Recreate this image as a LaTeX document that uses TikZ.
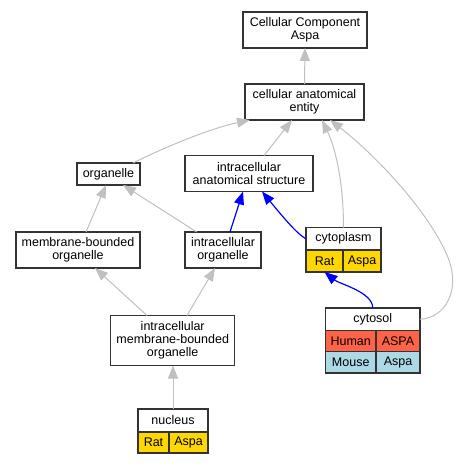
\documentclass[tikz,border=0pt]{standalone}
\usepackage{fontspec}
\setmainfont{Liberation Sans}
\usetikzlibrary{arrows.meta}
\definecolor{edgegray}{HTML}{C0C0C0}
\definecolor{gold}{HTML}{FFD700}
\definecolor{tomato}{HTML}{FF6347}
\definecolor{lblue}{HTML}{ADD8E6}
\definecolor{bord}{HTML}{333333}
\begin{document}
\begin{tikzpicture}[x=1pt,y=-1pt,
  box/.style={draw=bord, line width=1.3pt, rectangle, inner sep=0pt, outer sep=0pt, align=center, font=\fontsize{12.5}{13}\selectfont, fill=white},
  gedge/.style={color=edgegray, line width=1pt, -{Triangle[length=13pt,width=10pt]}},
  bedge/.style={color=blue, line width=1.2pt, -{Triangle[length=13pt,width=10pt]}},
]
\useasboundingbox (0,0) rectangle (459,464);
% simple boxes
\node[box, minimum width=124pt, minimum height=36pt] (cca) at (305,30) {Cellular Component\\Aspa};
\node[box, minimum width=119pt, minimum height=36pt] (cae) at (304.5,102) {cellular anatomical\\entity};
\node[box, minimum width=128pt, minimum height=36pt] (ias) at (249,173.5) {intracellular\\anatomical structure};
\node[box, minimum width=63pt, minimum height=22pt] (org) at (108.5,174) {organelle};
\node[box, minimum width=124pt, minimum height=36pt] (mbo) at (78,250) {membrane-bounded\\organelle};
\node[box, minimum width=76pt, minimum height=36pt] (io) at (223,250) {intracellular\\organelle};
\node[box, minimum width=124pt, minimum height=50pt] (imbo) at (172.7,340.5) {intracellular\\membrane-bounded\\organelle};
% cytoplasm table
\node[box, minimum width=75pt, minimum height=22.5pt] (cyph) at (343.5,238.75) {cytoplasm};
\node[box, fill=gold, minimum width=37pt, minimum height=22pt] (cypr) at (324.5,261) {Rat};
\node[box, fill=gold, minimum width=38pt, minimum height=22pt] (cypa) at (362,261) {Aspa};
% cytosol table
\node[box, minimum width=94.5pt, minimum height=22.5pt] (cysh) at (372.75,319.25) {cytosol};
\node[box, fill=tomato, minimum width=50.5pt, minimum height=21pt] (cyshu) at (350.75,341) {Human};
\node[box, fill=tomato, minimum width=44pt, minimum height=21pt] (cysas) at (398,341) {ASPA};
\node[box, fill=lblue, minimum width=50.5pt, minimum height=21.5pt] (cysmo) at (350.75,362.25) {Mouse};
\node[box, fill=lblue, minimum width=44pt, minimum height=21.5pt] (cysa2) at (398,362.25) {Aspa};
% nucleus table
\node[box, minimum width=70pt, minimum height=23pt] (nuch) at (173,420.5) {nucleus};
\node[box, fill=gold, minimum width=31pt, minimum height=21pt] (nucr) at (153.5,442.5) {Rat};
\node[box, fill=gold, minimum width=39pt, minimum height=21pt] (nuca) at (188.5,442.5) {Aspa};
% edges
\draw[gedge] (cae.north) -- (cca.south);
\draw[gedge] ([xshift=24.5pt]org.north) .. controls +(32,-16) and +(-40,8.5) .. ([xshift=-54.5pt]cae.south);
\draw[gedge] ([xshift=15pt]ias.north) -- ([xshift=-12.5pt]cae.south);
\draw[gedge] (cyph.north) .. controls +(0,-50) and +(12,25) .. ([xshift=17.5pt]cae.south);
\draw[gedge] (cysh.east) .. controls +(25,-1) and +(15,35) .. (447,255) .. controls +(-22,-50) and +(38,29) .. ([xshift=25.5pt]cae.south);
\draw[gedge] ([xshift=8pt]mbo.north) -- ([xshift=-2.5pt]org.south);
\draw[gedge] ([xshift=-26.3pt]io.north) -- ([xshift=14.5pt]org.south);
\draw[bedge] ([xshift=7pt]io.north) -- ([xshift=-6pt]ias.south);
\draw[bedge] (cyph.west) .. controls +(-8,-4) and +(23,28) .. ([xshift=13pt]ias.south);
\draw[bedge] (cysh.north) .. controls +(0,-16) and +(15,12) .. (cypr.south);
\draw[gedge] ([xshift=-25.7pt]imbo.north) -- ([xshift=17pt]mbo.south);
\draw[gedge] ([xshift=14.3pt]imbo.north) -- ([xshift=-8pt]io.south);
\draw[gedge] (nuch.north) -- (nuch.north |- imbo.south);
\end{tikzpicture}
\end{document}
